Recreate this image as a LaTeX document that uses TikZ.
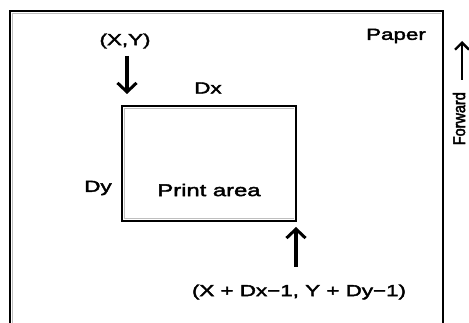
\documentclass[tikz,border=0pt]{standalone}
\usepackage{fontspec}
\setmainfont{Liberation Sans}
\newfontfamily\lblfont{Liberation Sans}[FakeStretch=1.4,FakeBold=2.5]
\newfontfamily\fwdfont{Liberation Sans}[FakeStretch=0.85,FakeBold=2.5]
\usetikzlibrary{arrows.meta}
\begin{document}
\begin{tikzpicture}[x=1pt,y=-1pt,
  lbl/.style={inner sep=0pt,font=\lblfont\fontsize{16}{18}\selectfont},
  fwdlbl/.style={inner sep=0pt,rotate=90,anchor=east,font=\fwdfont\fontsize{17}{19}\selectfont},
  bigarrow/.style={line width=3.6pt,-{Straight Barb[length=9pt,width=19pt,line width=3pt]}},
  fwdarrow/.style={line width=2.8pt,-{Straight Barb[length=7pt,width=14pt,line width=2.4pt]}},
  shade/.style={draw=black!25,line width=1.6pt},
  edge/.style={draw=black,line width=2pt}]
\useasboundingbox (0,0) rectangle (469,323);
% paper
\coordinate (ptl) at (10,11);
\coordinate (ptr) at (443,11);
\coordinate (pbl) at (10,323);
\coordinate (pbr) at (443,323);
\draw[shade] (12.5,323) -- (12.5,13.5) -- (441,13.5);
\draw[edge] (pbl) -- (ptl) -- (ptr) -- (pbr);
% print area
\coordinate (atl) at (122,106);
\coordinate (abr) at (296,221);
\draw[shade] (124.5,219) -- (124.5,108.5) -- (294,108.5);
\draw[shade] (124.5,218.5) -- (294,218.5);
\draw[edge] (atl) rectangle (abr);
\node[lbl,font=\lblfont\fontsize{17}{19}\selectfont] (pa) at (209,190) {Print area};
% labels
\node[lbl] (xy) at (125,41) {(X,Y)};
\node[lbl] (dx) at (208,88) {Dx};
\node[lbl] (dy) at (98,188) {Dy};
\node[lbl] (paper) at (396,36) {Paper};
\node[lbl] (end) at (299,292) {(X + Dx−1, Y + Dy−1)};
\node[fwdlbl] (fwd) at (459,92) {Forward};
% arrows
\coordinate (a1s) at (127,56);
\coordinate (a1e) at (127,94);
\draw[bigarrow] (a1s) -- (a1e);
\coordinate (a2s) at (296,267);
\coordinate (a2e) at (296,227);
\draw[bigarrow] (a2s) -- (a2e);
\coordinate (a3s) at (462,80);
\coordinate (a3e) at (462,41);
\draw[fwdarrow] (a3s) -- (a3e);
\end{tikzpicture}
\end{document}
